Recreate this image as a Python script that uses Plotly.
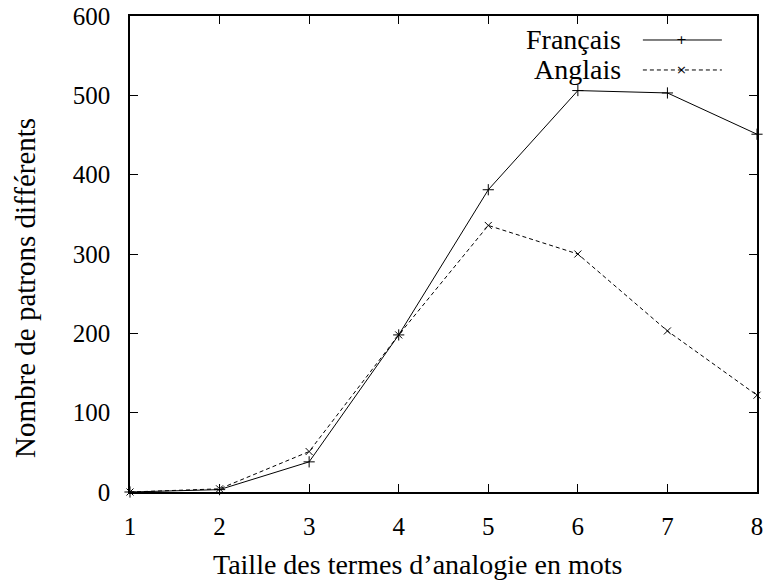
import plotly.graph_objects as go

# Taille des termes (en mots)
taille = [1, 2, 3, 4, 5, 6, 7, 8]

# Nombre de patrons differents
francais = [0, 3, 38, 198, 381, 506, 503, 451]
anglais = [0, 4, 51, 198, 336, 300, 203, 122]

graduations_y = [0, 100, 200, 300, 400, 500, 600]

police = "Liberation Serif"

fig = go.Figure()

fig.add_trace(go.Scatter(
    x=taille, y=francais, name="Français", mode="lines+markers",
    line=dict(color="black", width=1),
    marker=dict(symbol="cross-thin", size=8, line=dict(color="black", width=1)),
    cliponaxis=False,
))
fig.add_trace(go.Scatter(
    x=taille, y=anglais, name="Anglais", mode="lines+markers",
    line=dict(color="black", width=1, dash="4px,3px"),
    marker=dict(symbol="x-thin", size=7, line=dict(color="black", width=1)),
    cliponaxis=False,
))

# legende facon gnuplot : texte a gauche, echantillon a droite
leg = [("Français", "solid", "+", 0.9496), ("Anglais", "4px,3px", "×", 0.8866)]
for nom, dash, sym, yy in leg:
    fig.add_annotation(x=0.786, y=yy, xref="paper", yref="paper", text=nom,
                       showarrow=False, xanchor="right", yanchor="middle",
                       font=dict(family=police, size=28, color="black"))
    fig.add_shape(type="line", xref="paper", yref="paper",
                  x0=0.818, x1=0.944, y0=yy, y1=yy,
                  line=dict(color="black", width=1, dash=dash))
    fig.add_annotation(x=0.880, y=yy, xref="paper", yref="paper", text=sym,
                       showarrow=False, xanchor="center", yanchor="middle",
                       font=dict(family="DejaVu Sans", size=13, color="black"))

# titres des axes (centres comme dans gnuplot)
fig.add_annotation(x=0.459, y=-0.153, xref="paper", yref="paper",
                   text="Taille des termes d’analogie en mots", showarrow=False,
                   xanchor="center", yanchor="middle",
                   font=dict(family=police, size=28, color="black"))
fig.add_annotation(x=-0.1675, y=0.4286, xref="paper", yref="paper",
                   text="Nombre de patrons différents", showarrow=False, textangle=-90,
                   xanchor="center", yanchor="middle",
                   font=dict(family=police, size=29, color="black"))

fig.update_layout(
    width=763, height=586,
    margin=dict(l=130, r=6, t=16, b=94),
    paper_bgcolor="white", plot_bgcolor="white",
    showlegend=False,
    font=dict(family=police, size=25, color="black"),
)
fig.update_xaxes(
    range=[1, 8], tickvals=taille, ticks="inside", ticklen=8, tickcolor="black",
    showline=True, linecolor="black", linewidth=1.5, mirror="ticks",
    showgrid=False, zeroline=False, ticklabelstandoff=11,
    ticklabeloverflow="allow", automargin=False,
)
fig.update_yaxes(
    range=[0, 600], tickvals=graduations_y, ticks="inside",
    ticklen=8, tickcolor="black",
    showline=True, linecolor="black", linewidth=1.5, mirror="ticks",
    showgrid=False, zeroline=False, ticklabelstandoff=13,
    ticklabeloverflow="allow", automargin=False,
)

# pas de marge autour de la figure dans la page, pas de barre d'outils
fig.write_html("out.html", config={"displayModeBar": False},
               post_script="document.body.style.margin='0';")
